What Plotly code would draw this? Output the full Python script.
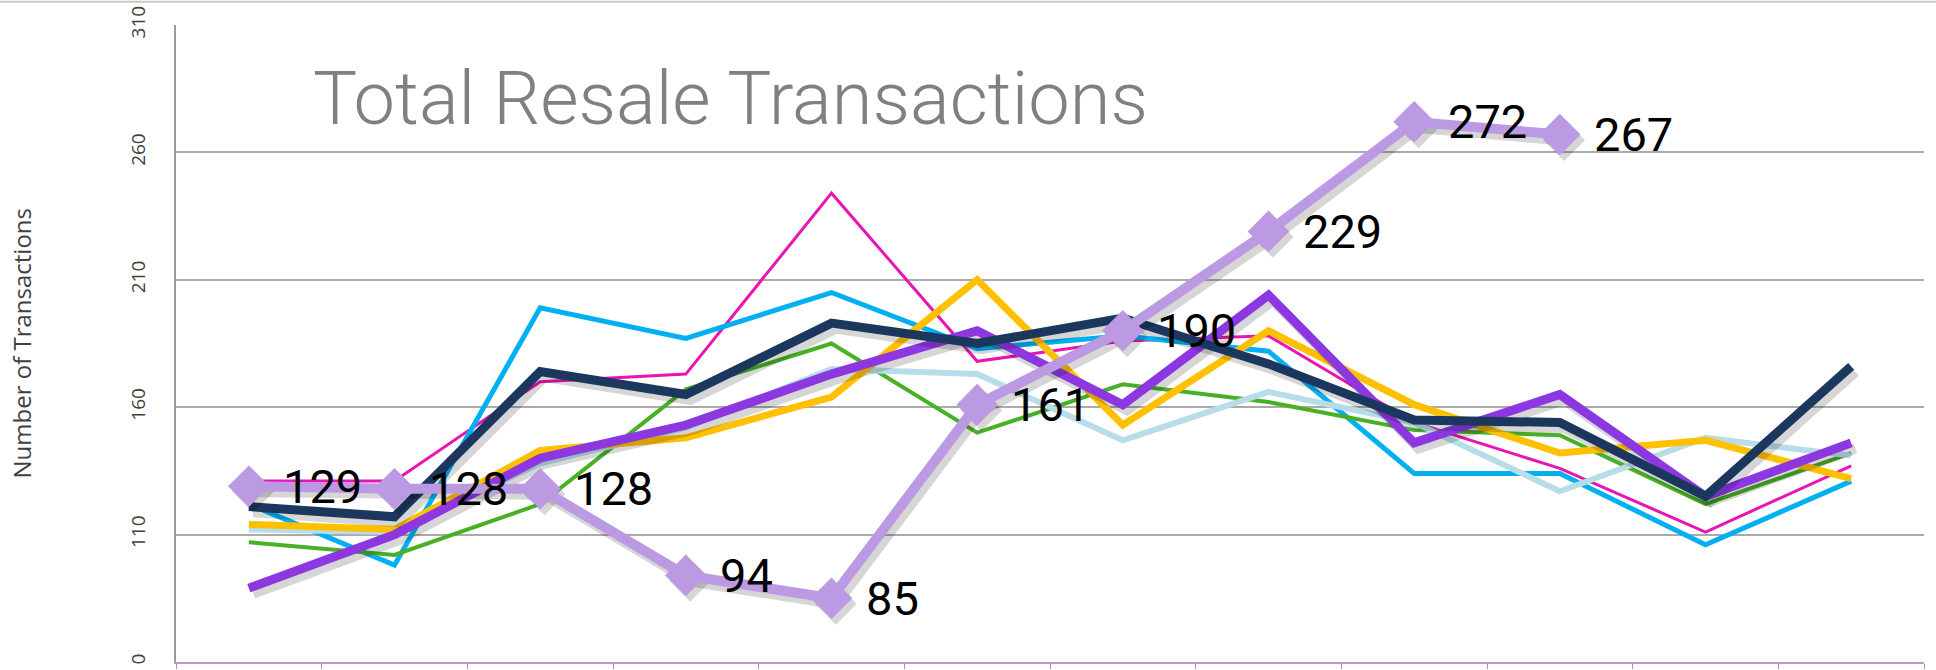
import plotly.graph_objects as go

months = ["Jan", "Feb", "Mar", "Apr", "May", "Jun", "Jul", "Aug", "Sep", "Oct", "Nov", "Dec"]

s_magenta = [131, 131, 170, 173, 244, 178, 186, 188, 154, 136, 111, 137]
s_cyan = [122, 98, 199, 187, 205, 183, 188, 182, 134, 134, 106, 131]
s_green = [107, 102, 122, 167, 185, 150, 169, 162, 151, 149, 122, 142]
s_lightblue = [112, 111, 138, 152, 175, 173, 147, 166, 154, 127, 148, 141]
s_yellow = [114, 112, 143, 148, 164, 210, 153, 190, 161, 142, 147, 132]
s_purple = [89, 110, 140, 153, 173, 190, 161, 204, 146, 165, 125, 146]
s_navy = [121, 117, 174, 165, 193, 185, 195, 177, 155, 154, 125, 176]
s_current = [129, 128, 128, 94, 85, 161, 190, 229, 272, 267]

y_tickvals = [60, 110, 160, 210, 260, 310]
y_ticktext = ["0", "110", "160", "210", "260", "310"]

series = [
    ("Series 1", s_magenta, "#E815B4", 3, False),
    ("Series 2", s_cyan, "#00B0F0", 5, False),
    ("Series 3", s_green, "#47B025", 4, False),
    ("Series 4", s_lightblue, "#B7DEE8", 6, False),
    ("Series 5", s_yellow, "#FFC000", 7, False),
    ("Series 6", s_purple, "#8C37DF", 9, True),
    ("Series 7", s_navy, "#1C375E", 9, True),
]

idx = list(range(12))
fig = go.Figure()

SH_DX = 0.03
SH_DY = -2.2
SH_COL = "rgba(0,0,0,0.16)"

for name, vals, color, w, shadow in series:
    xs = idx[:len(vals)]
    if shadow:
        fig.add_trace(go.Scatter(
            x=[v + SH_DX for v in xs], y=[v + SH_DY for v in vals], mode="lines",
            line=dict(color=SH_COL, width=w + 1),
            hoverinfo="skip", showlegend=False))
    fig.add_trace(go.Scatter(
        x=xs, y=vals, mode="lines", name=name,
        line=dict(color=color, width=w), showlegend=False))

xs = idx[:len(s_current)]
fig.add_trace(go.Scatter(
    x=[v + SH_DX for v in xs], y=[v + SH_DY for v in s_current], mode="lines+markers",
    line=dict(color=SH_COL, width=11),
    marker=dict(symbol="diamond", size=32, color=SH_COL),
    hoverinfo="skip", showlegend=False))
fig.add_trace(go.Scatter(
    x=xs, y=s_current, mode="lines+markers", name="Current",
    line=dict(color="#BC9AE3", width=10),
    marker=dict(symbol="diamond", size=32, color="#BC9AE3"),
    showlegend=False))

annotations = []
for i, v in enumerate(s_current):
    annotations.append(dict(
        x=i, y=v, xref="x", yref="y", text=str(v), showarrow=False,
        xanchor="left", yanchor="middle", xshift=32,
        font=dict(family="Roboto", size=47, color="#000000")))

annotations.append(dict(
    x=(311 - 176) / 1748, y=(667 - 99) / 642, xref="paper", yref="paper",
    text="Total Resale Transactions", showarrow=False,
    xanchor="left", yanchor="middle",
    font=dict(family="Roboto", size=74, color="#808080", weight=300)))

annotations.append(dict(
    x=(21 - 176) / 1748, y=0.5, xref="paper", yref="paper",
    text="Number of Transactions", showarrow=False, textangle=-90,
    xanchor="center", yanchor="middle",
    font=dict(family="Open Sans", size=24, color="#404040")))

fig.update_layout(
    width=1936, height=670,
    margin=dict(l=176, r=12, t=25, b=3),
    paper_bgcolor="white", plot_bgcolor="white",
    annotations=annotations,
    shapes=[dict(type="line", xref="paper", yref="paper",
                 x0=-0.2, x1=1.1, y0=1 + 23.5 / 642, y1=1 + 23.5 / 642,
                 line=dict(color="#C8C8C8", width=2))],
)

fig.update_xaxes(
    range=[-0.5, 11.5], tickmode="array",
    tickvals=[i - 0.5 for i in range(13)], ticktext=[""] * 13,
    ticks="outside", ticklen=5, tickcolor="#999999",
    showgrid=False, zeroline=False,
    showline=True, linecolor="#C990D6", linewidth=2,
)
fig.update_yaxes(
    range=[60, 310], tickmode="array", tickvals=y_tickvals, ticktext=y_ticktext,
    tickangle=-90, ticks="", ticklabelstandoff=22,
    tickfont=dict(family="Open Sans", size=19, color="#404040"),
    showgrid=True, gridcolor="#AAAAAA", gridwidth=1.5,
    zeroline=False, showline=True, linecolor="#999999", linewidth=1.5,
)

fig.write_html("out.html", config={"displayModeBar": False},
               post_script="document.body.style.margin='0px';")
